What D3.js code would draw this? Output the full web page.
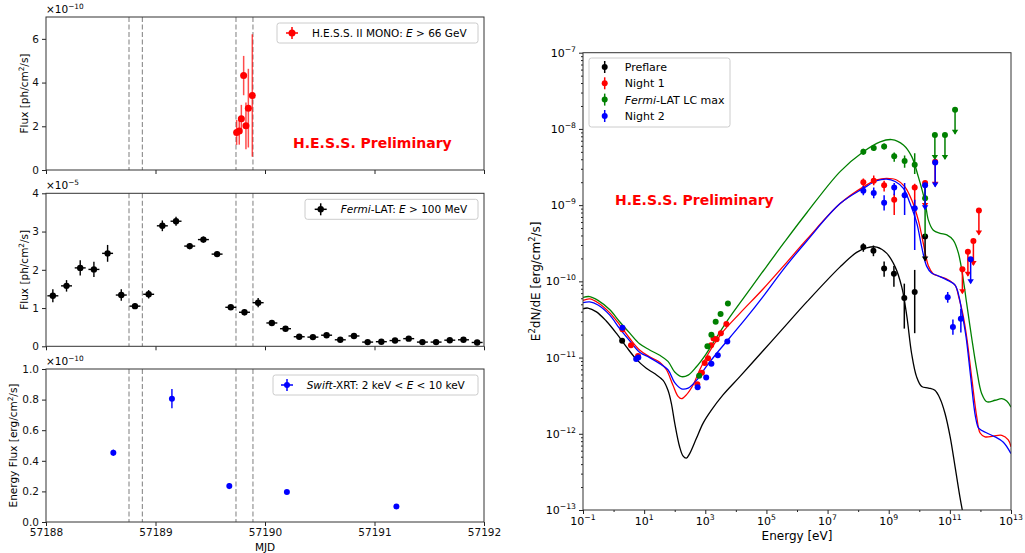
<!DOCTYPE html>
<html>
<head>
<meta charset="utf-8">
<script src="https://cdn.jsdelivr.net/npm/d3@7/dist/d3.min.js"></script>
<style>
  body { margin: 0; background: #fff; }
  text { font-family: "DejaVu Sans", sans-serif; }
</style>
</head>
<body>
<script>
// ---------- light curves (left column) ----------
var mjdTicks = [57188, 57189, 57190, 57191, 57192];
var nightEdges = [57188.758, 57188.880, 57189.735, 57189.890];

// H.E.S.S. II MONO, E > 66 GeV   (x 1e-10 ph/cm2/s)
var hessMJD  = [57189.741, 57189.765, 57189.784, 57189.805, 57189.826, 57189.848, 57189.884];
var hessFlux = [1.72, 1.78, 2.34, 4.32, 2.02, 2.83, 3.41];
var hessErr  = [0.57, 0.62, 0.64, 0.90, 1.07, 1.80, 2.80];

// Fermi-LAT, E > 100 MeV   (x 1e-5 ph/cm2/s), 3 h bins
var fermiMJD = [57188.0625, 57188.1875, 57188.3125, 57188.4375, 57188.5625, 57188.6875, 57188.8125, 57188.9375,
                57189.0625, 57189.1875, 57189.3125, 57189.4375, 57189.5625, 57189.6875, 57189.8125, 57189.9375,
                57190.0625, 57190.1875, 57190.3125, 57190.4375, 57190.5625, 57190.6875, 57190.8125, 57190.9375,
                57191.0625, 57191.1875, 57191.3125, 57191.4375, 57191.5625, 57191.6875, 57191.8125, 57191.9375];
var fermiFlux = [1.32, 1.58, 2.05, 2.01, 2.43, 1.34, 1.05, 1.36, 3.15, 3.27, 2.62, 2.79, 2.41, 1.02, 0.89, 1.14,
                 0.61, 0.46, 0.25, 0.24, 0.29, 0.17, 0.27, 0.11, 0.12, 0.15, 0.20, 0.11, 0.11, 0.16, 0.17, 0.10];
var fermiErr  = [0.17, 0.15, 0.20, 0.20, 0.22, 0.15, 0.07, 0.11, 0.14, 0.12, 0.08, 0.08, 0.07, 0.06, 0.08, 0.12,
                 0.05, 0.05, 0.04, 0.04, 0.05, 0.04, 0.04, 0.04, 0.04, 0.04, 0.05, 0.03, 0.03, 0.04, 0.04, 0.03];
var fermiHalfBin = 0.05;

// Swift-XRT, 2-10 keV   (x 1e-10 erg/cm2/s)
var swiftMJD  = [57188.615, 57189.150, 57189.674, 57190.200, 57191.200];
var swiftFlux = [0.453, 0.806, 0.235, 0.196, 0.102];
var swiftErr  = [0.020, 0.063, 0.020, 0.012, 0.008];

// ---------- SED (right) : log10(E/eV), log10(E2dN/dE) ----------
var preflareModel = [[-1,-10.36],[-0.84,-10.35],[-0.56,-10.40],[-0.24,-10.52],[0.09,-10.68],[0.42,-10.86],[0.74,-11.02],
  [1.07,-11.14],[1.34,-11.21],[1.62,-11.30],[1.78,-11.43],[1.89,-11.60],[2.00,-11.86],[2.16,-12.17],[2.27,-12.29],
  [2.38,-12.32],[2.49,-12.26],[2.71,-12.06],[2.93,-11.86],[3.20,-11.69],[3.58,-11.49],[4.13,-11.25],[4.89,-10.91],
  [5.45,-10.66],[6.32,-10.27],[7.41,-9.81],[7.95,-9.62],[8.28,-9.56],[8.61,-9.55],[8.93,-9.63],[9.21,-9.81],
  [9.43,-10.08],[9.59,-10.45],[9.75,-10.95],[9.91,-11.25],[10.08,-11.38],[10.30,-11.40],[10.51,-11.43],
  [10.68,-11.54],[10.84,-11.73],[11.01,-12.04],[11.17,-12.43],[11.33,-12.83],[11.44,-13.07]];
var night1Model = [[-1,-10.25],[-0.78,-10.23],[-0.51,-10.28],[-0.13,-10.41],[0.20,-10.57],[0.53,-10.75],[0.85,-10.90],
  [1.18,-10.99],[1.51,-11.06],[1.73,-11.16],[1.94,-11.36],[2.11,-11.51],[2.22,-11.54],[2.38,-11.49],[2.60,-11.36],
  [2.82,-11.16],[3.14,-10.92],[3.58,-10.66],[4.13,-10.42],[4.89,-10.10],[5.60,-9.78],[6.32,-9.45],[7.41,-8.98],
  [8.17,-8.76],[8.61,-8.67],[8.93,-8.65],[9.26,-8.67],[9.53,-8.76],[9.75,-8.93],[9.97,-9.20],[10.13,-9.50],
  [10.30,-9.80],[10.45,-9.90],[10.62,-9.93],[10.90,-9.97],[11.17,-10.05],[11.30,-10.22],[11.42,-10.42],
  [11.55,-10.73],[11.71,-11.25],[11.88,-11.78],[11.99,-11.99],[12.15,-12.04],[12.42,-12.03],[12.70,-12.02],
  [12.91,-12.08],[13.0,-12.17]];
var fermiMaxModel = [[-1,-10.21],[-0.78,-10.20],[-0.51,-10.25],[-0.13,-10.37],[0.20,-10.53],[0.53,-10.68],[0.85,-10.82],
  [1.18,-10.90],[1.51,-10.97],[1.78,-11.05],[2.00,-11.19],[2.22,-11.25],[2.44,-11.23],[2.71,-11.12],[3.03,-10.95],
  [3.36,-10.74],[3.80,-10.47],[4.34,-10.17],[4.83,-9.90],[5.60,-9.48],[6.32,-9.10],[7.41,-8.56],[8.17,-8.30],
  [8.72,-8.17],[9.10,-8.14],[9.48,-8.21],[9.75,-8.36],[9.97,-8.63],[10.19,-8.96],[10.30,-9.20],[10.46,-9.33],
  [10.68,-9.37],[10.90,-9.39],[11.11,-9.46],[11.28,-9.63],[11.44,-9.98],[11.55,-10.29],[11.71,-10.73],
  [11.88,-11.16],[12.04,-11.47],[12.21,-11.58],[12.48,-11.56],[12.70,-11.54],[12.86,-11.57],[13.0,-11.65]];
var night2Model = [[-1,-10.28],[-0.78,-10.27],[-0.51,-10.31],[-0.13,-10.44],[0.20,-10.62],[0.53,-10.78],[0.85,-10.93],
  [1.18,-11.00],[1.51,-11.08],[1.78,-11.16],[2.00,-11.33],[2.22,-11.41],[2.44,-11.40],[2.71,-11.30],[3.03,-11.12],
  [3.36,-10.95],[3.80,-10.74],[4.34,-10.48],[4.89,-10.20],[5.60,-9.82],[6.32,-9.47],[7.41,-8.98],[8.17,-8.78],
  [8.61,-8.68],[8.93,-8.66],[9.21,-8.69],[9.48,-8.78],[9.70,-8.98],[9.92,-9.24],[10.08,-9.55],[10.24,-9.80],
  [10.40,-9.89],[10.57,-9.92],[10.90,-9.98],[11.17,-10.05],[11.30,-10.20],[11.40,-10.42],[11.53,-10.73],
  [11.68,-11.25],[11.84,-11.78],[11.95,-11.93],[12.21,-11.99],[12.48,-12.04],[12.75,-12.11],[13.0,-12.26]];

// SED points: log E, log flux, lower / upper error (dex), upper-limit flag
var preLogE  = [0.28, 8.17, 8.50, 8.85, 9.17, 9.51, 9.85, 10.19];
var preLogF  = [-10.78, -9.55, -9.60, -9.83, -9.90, -10.22, -10.14, -9.41];
var preErrLo = [0.02, 0.06, 0.07, 0.11, 0.17, 0.40, 0.54, 0];
var preErrHi = [0.02, 0.05, 0.07, 0.09, 0.10, 0.19, 0.29, 0];
var preUL    = [0, 0, 0, 0, 0, 0, 0, 1];

var n1LogE  = [0.29, 0.57, 0.80, 2.74, 2.89, 2.98, 3.09, 3.19, 3.27, 3.37, 3.51, 3.69,
               8.17, 8.51, 8.85, 9.18, 9.85, 10.19, 10.52, 11.41, 11.59, 11.77, 11.95];
var n1LogF  = [-10.63, -10.84, -10.98, -11.35, -11.20, -11.07, -11.01, -10.84, -10.75, -10.76, -10.68, -10.56,
               -8.70, -8.68, -8.74, -8.93, -8.77, -8.71, -8.43, -9.84, -9.61, -9.47, -9.07];
var n1ErrLo = [0.02, 0.02, 0.02, 0.02, 0.02, 0.02, 0.02, 0.02, 0.02, 0.02, 0.02, 0.02,
               0.06, 0.06, 0.08, 0.20, 0.25, 0, 0, 0, 0, 0, 0];
var n1ErrHi = [0.02, 0.02, 0.02, 0.02, 0.02, 0.02, 0.02, 0.02, 0.02, 0.02, 0.02, 0.02,
               0.05, 0.07, 0.06, 0.08, 0.05, 0, 0, 0, 0, 0, 0];
var n1UL    = [0, 0, 0, 0, 0, 0, 0, 0, 0, 0, 0, 0, 0, 0, 0, 0, 0, 1, 1, 1, 1, 1, 1];

var fmLogE  = [2.80, 3.07, 3.20, 3.34, 3.50, 3.74, 8.17, 8.51, 8.85, 9.18, 9.52, 9.85, 10.19, 10.51, 10.84, 11.17];
var fmLogF  = [-11.24, -10.85, -10.70, -10.53, -10.43, -10.29, -8.30, -8.25, -8.23, -8.36, -8.42, -8.47, -8.91, -8.08, -8.08, -7.75];
var fmErrLo = [0.02, 0.02, 0.02, 0.02, 0.02, 0.02, 0.04, 0.04, 0.04, 0.07, 0.09, 0.12, 0.50, 0, 0, 0];
var fmErrHi = [0.02, 0.02, 0.02, 0.02, 0.02, 0.02, 0.04, 0.04, 0.04, 0.05, 0.07, 0.15, 0.20, 0, 0, 0];
var fmUL    = [0, 0, 0, 0, 0, 0, 0, 0, 0, 0, 0, 0, 0, 1, 1, 1];

var n2LogE  = [0.29, 0.74, 0.81, 2.75, 3.03, 3.20, 3.41, 3.72, 8.17, 8.51, 8.85, 9.18, 9.52, 9.85,
               10.19, 10.52, 10.93, 11.10, 11.36, 11.68];
var n2LogF  = [-10.61, -11.02, -11.00, -11.39, -11.26, -11.08, -10.97, -10.79, -8.81, -8.84, -8.97, -8.77, -8.87, -9.04,
               -8.74, -8.44, -10.21, -10.60, -10.49, -9.71];
var n2ErrLo = [0.02, 0.02, 0.02, 0.02, 0.02, 0.02, 0.02, 0.02, 0.06, 0.07, 0.10, 0.10, 0.26, 0.55, 0, 0, 0.07, 0.10, 0.18, 0];
var n2ErrHi = [0.02, 0.02, 0.02, 0.02, 0.02, 0.02, 0.02, 0.02, 0.06, 0.07, 0.10, 0.06, 0.16, 0.11, 0, 0, 0.07, 0.10, 0.13, 0];
var n2UL    = [0, 0, 0, 0, 0, 0, 0, 0, 0, 0, 0, 0, 0, 0, 1, 1, 0, 0, 0, 1];

var sedSets = [
  {name: [{t: "Preflare"}], color: "#000000", model: preflareModel, e: preLogE, f: preLogF, lo: preErrLo, hi: preErrHi, ul: preUL},
  {name: [{t: "Night 1"}], color: "#ff0000", model: night1Model, e: n1LogE, f: n1LogF, lo: n1ErrLo, hi: n1ErrHi, ul: n1UL},
  {name: [{t: "Fermi", it: true}, {t: "-LAT LC max"}], color: "#008000", model: fermiMaxModel, e: fmLogE, f: fmLogF, lo: fmErrLo, hi: fmErrHi, ul: fmUL},
  {name: [{t: "Night 2"}], color: "#0000ff", model: night2Model, e: n2LogE, f: n2LogF, lo: n2ErrLo, hi: n2ErrHi, ul: n2UL}
];

var svg = d3.select("body").append("svg")
    .attr("width", 1025)
    .attr("height", 553);

// text with italic / superscript pieces
function rich(t, parts, fs) {
  var shift = 0;
  parts.forEach(function(p) {
    var s = t.append("tspan").text(p.t);
    var want = p.sup ? -Math.round(fs * 0.42) : 0;
    if (want !== shift) { s.attr("dy", want - shift); shift = want; }
    if (p.sup) s.style("font-size", (fs * 0.7) + "px");
    if (p.it) s.style("font-style", "italic");
  });
  return t;
}

function styleAxis(g, fs) {
  g.select(".domain").remove();
  g.selectAll("line").attr("stroke", "#222");
  g.selectAll("text").attr("font-family", "DejaVu Sans").attr("font-size", fs).attr("fill", "#111");
}

// ================= left column =================
var x = d3.scaleLinear().domain([57188, 57192]).range([46, 484]);
var panelH = 153;

function lcPanel(top, yMax, yTicks, fmt, showX) {
  var y = d3.scaleLinear().domain([0, yMax]).range([top + panelH, top]);
  var g = svg.append("g");
  g.append("g")
      .attr("transform", "translate(0," + (top + panelH) + ")")
      .call(d3.axisBottom(x).tickValues(mjdTicks).tickSize(4).tickPadding(3)
        .tickFormat(showX ? d3.format("d") : ""))
      .call(styleAxis, 10.5);
  g.append("g")
      .attr("transform", "translate(46,0)")
      .call(d3.axisLeft(y).tickValues(yTicks).tickSize(4).tickPadding(3).tickFormat(fmt))
      .call(styleAxis, 10.5);
  g.selectAll(".night")
    .data(nightEdges)
    .enter().append("line")
      .attr("x1", function(d) { return x(d); })
      .attr("x2", function(d) { return x(d); })
      .attr("y1", top).attr("y2", top + panelH)
      .attr("stroke", "#8a8a8a").attr("stroke-width", 1.1)
      .attr("stroke-dasharray", "5,2.5");
  return {g: g, y: y, top: top};
}

function frame(top) {
  svg.append("rect")
      .attr("x", 46).attr("y", top).attr("width", 438).attr("height", panelH)
      .attr("fill", "none").attr("stroke", "#333").attr("stroke-width", 1);
}

function offsetText(top, exp) {
  rich(svg.append("text").attr("x", 46).attr("y", top - 4).attr("font-size", 10.5),
       [{t: "\u00d710"}, {t: exp, sup: true}], 10.5);
}

function yLabel(xpos, top, parts) {
  rich(svg.append("text")
      .attr("transform", "translate(" + xpos + "," + (top + panelH / 2) + ") rotate(-90)")
      .attr("text-anchor", "middle").attr("font-size", 10.5), parts, 10.5);
}

function lcLegend(top, x0, markX, textX, color, r, parts) {
  var cy = top + 16;
  svg.append("rect")
      .attr("x", x0).attr("y", top + 6).attr("width", 478 - x0).attr("height", 20)
      .attr("rx", 2.5).attr("fill", "#fff").attr("fill-opacity", 0.8)
      .attr("stroke", "#cccccc").attr("stroke-width", 1);
  svg.append("line").attr("x1", markX - 6).attr("x2", markX + 6).attr("y1", cy).attr("y2", cy)
      .attr("stroke", color).attr("stroke-width", 1.5);
  svg.append("line").attr("x1", markX).attr("x2", markX).attr("y1", cy - 6).attr("y2", cy + 6)
      .attr("stroke", color).attr("stroke-width", 1.5);
  svg.append("circle").attr("cx", markX).attr("cy", cy).attr("r", r).attr("fill", color);
  rich(svg.append("text").attr("x", textX).attr("y", cy + 3.8).attr("font-size", 10.5), parts, 10.5);
}

// --- H.E.S.S. ---
var p1 = lcPanel(17, 7, [0, 2, 4, 6], d3.format("d"), false);
hessMJD.forEach(function(t, i) {
  p1.g.append("line")
      .attr("x1", x(t)).attr("x2", x(t))
      .attr("y1", p1.y(hessFlux[i] - hessErr[i])).attr("y2", p1.y(hessFlux[i] + hessErr[i]))
      .attr("stroke", "#ff0000").attr("stroke-opacity", 0.7).attr("stroke-width", 1.5);
});
p1.g.selectAll(".hess").data(hessMJD).enter().append("circle")
    .attr("cx", function(d) { return x(d); })
    .attr("cy", function(d, i) { return p1.y(hessFlux[i]); })
    .attr("r", 3.5).attr("fill", "#ff0000");
svg.append("text").attr("x", 293).attr("y", 148)
    .attr("font-size", 14).attr("font-weight", "bold").attr("fill", "#ff0000")
    .text("H.E.S.S. Preliminary");
lcLegend(17, 277, 292, 312, "#ff0000", 3.5,
  [{t: "H.E.S.S. II MONO: "}, {t: "E", it: true}, {t: " > 66 GeV"}]);
frame(17);
offsetText(17, "\u221210");
yLabel(28, 17, [{t: "Flux [ph/cm"}, {t: "2", sup: true}, {t: "/s]"}]);

// --- Fermi-LAT ---
var p2 = lcPanel(193.3, 4, [0, 1, 2, 3, 4], d3.format("d"), false);
fermiMJD.forEach(function(t, i) {
  p2.g.append("line")
      .attr("x1", x(t)).attr("x2", x(t))
      .attr("y1", p2.y(fermiFlux[i] - fermiErr[i])).attr("y2", p2.y(fermiFlux[i] + fermiErr[i]))
      .attr("stroke", "#000").attr("stroke-width", 1.4);
  p2.g.append("line")
      .attr("x1", x(t - fermiHalfBin)).attr("x2", x(t + fermiHalfBin))
      .attr("y1", p2.y(fermiFlux[i])).attr("y2", p2.y(fermiFlux[i]))
      .attr("stroke", "#000").attr("stroke-width", 1.4);
});
p2.g.selectAll(".fermi").data(fermiMJD).enter().append("circle")
    .attr("cx", function(d) { return x(d); })
    .attr("cy", function(d, i) { return p2.y(fermiFlux[i]); })
    .attr("r", 3.2).attr("fill", "#000");
lcLegend(193.3, 305, 320.7, 340.7, "#000", 3.2,
  [{t: "Fermi", it: true}, {t: "-LAT: "}, {t: "E", it: true}, {t: " > 100 MeV"}]);
frame(193.3);
offsetText(193.3, "\u22125");
yLabel(28, 193.3, [{t: "Flux [ph/cm"}, {t: "2", sup: true}, {t: "/s]"}]);

// --- Swift-XRT ---
var p3 = lcPanel(369, 1, [0, 0.2, 0.4, 0.6, 0.8, 1.0], d3.format(".1f"), true);
swiftMJD.forEach(function(t, i) {
  p3.g.append("line")
      .attr("x1", x(t)).attr("x2", x(t))
      .attr("y1", p3.y(swiftFlux[i] - swiftErr[i])).attr("y2", p3.y(swiftFlux[i] + swiftErr[i]))
      .attr("stroke", "#0000ff").attr("stroke-width", 1.4);
});
p3.g.selectAll(".swift").data(swiftMJD).enter().append("circle")
    .attr("cx", function(d) { return x(d); })
    .attr("cy", function(d, i) { return p3.y(swiftFlux[i]); })
    .attr("r", 3).attr("fill", "#0000ff");
lcLegend(369, 273, 287, 306.7, "#0000ff", 3,
  [{t: "Swift", it: true}, {t: "-XRT: 2 keV < "}, {t: "E", it: true}, {t: " < 10 keV"}]);
frame(369);
offsetText(369, "\u221210");
yLabel(17, 369, [{t: "Energy Flux [erg/cm"}, {t: "2", sup: true}, {t: "/s]"}]);

svg.append("text").attr("x", x(57190)).attr("y", 551)
    .attr("text-anchor", "middle").attr("font-size", 10.5).text("MJD");

// ================= right: SED =================
var sx = d3.scaleLog().domain([1e-1, 1e13]).range([583, 1011]);
var sy = d3.scaleLog().domain([1e-13, 1e-7]).range([510, 52.7]);

var xMajor = [-1, 1, 3, 5, 7, 9, 11, 13];
var xMinor = [0, 2, 4, 6, 8, 10, 12];
var yMajor = [-13, -12, -11, -10, -9, -8, -7];
var yMinor = [];
yMajor.slice(0, -1).forEach(function(e) {
  [2, 3, 4, 5, 6, 7, 8, 9].forEach(function(m) { yMinor.push(m * Math.pow(10, e)); });
});

var sed = svg.append("g");
sed.append("g").attr("transform", "translate(0,510)")
    .call(d3.axisBottom(sx).tickValues(xMajor.map(function(e) { return Math.pow(10, e); })).tickSize(4).tickFormat(""))
    .call(styleAxis, 11);
sed.append("g").attr("transform", "translate(0,510)")
    .call(d3.axisBottom(sx).tickValues(xMinor.map(function(e) { return Math.pow(10, e); })).tickSize(2).tickFormat(""))
    .call(styleAxis, 11);
sed.append("g").attr("transform", "translate(583,0)")
    .call(d3.axisLeft(sy).tickValues(yMajor.map(function(e) { return Math.pow(10, e); })).tickSize(4).tickFormat(""))
    .call(styleAxis, 11);
sed.append("g").attr("transform", "translate(583,0)")
    .call(d3.axisLeft(sy).tickValues(yMinor).tickSize(2).tickFormat(""))
    .call(styleAxis, 11);

xMajor.forEach(function(e) {
  rich(sed.append("text").attr("x", sx(Math.pow(10, e))).attr("y", 525)
      .attr("text-anchor", "middle").attr("font-size", 11),
      [{t: "10"}, {t: e < 0 ? "\u2212" + (-e) : "" + e, sup: true}], 11);
});
yMajor.forEach(function(e) {
  rich(sed.append("text").attr("x", 576).attr("y", sy(Math.pow(10, e)) + 4)
      .attr("text-anchor", "end").attr("font-size", 11),
      [{t: "10"}, {t: "\u2212" + (-e), sup: true}], 11);
});

svg.append("defs").append("clipPath").attr("id", "sedClip")
  .append("rect").attr("x", 583).attr("y", 52.7).attr("width", 428).attr("height", 457.3);

var plot = sed.append("g").attr("clip-path", "url(#sedClip)");

var line = d3.line()
    .x(function(d) { return sx(Math.pow(10, d[0])); })
    .y(function(d) { return sy(Math.pow(10, d[1])); })
    .curve(d3.curveCatmullRom.alpha(0.5));

sedSets.forEach(function(s) {
  plot.append("path").datum(s.model)
      .attr("d", line).attr("fill", "none")
      .attr("stroke", s.color).attr("stroke-width", 1.3);
});

var ulLen = 24;
sedSets.forEach(function(s) {
  s.e.forEach(function(le, i) {
    var px = sx(Math.pow(10, le)), py = sy(Math.pow(10, s.f[i]));
    if (s.ul[i]) {
      plot.append("line").attr("x1", px).attr("x2", px).attr("y1", py).attr("y2", py + ulLen)
          .attr("stroke", s.color).attr("stroke-width", 1.5);
      plot.append("path")
          .attr("d", "M" + (px - 3.2) + "," + (py + ulLen - 4) + "L" + (px + 3.2) + "," + (py + ulLen - 4) +
                     "L" + px + "," + (py + ulLen + 1) + "Z")
          .attr("fill", s.color);
    } else {
      plot.append("line").attr("x1", px).attr("x2", px)
          .attr("y1", sy(Math.pow(10, s.f[i] - s.lo[i])))
          .attr("y2", sy(Math.pow(10, s.f[i] + s.hi[i])))
          .attr("stroke", s.color).attr("stroke-width", 1.5);
    }
    plot.append("circle").attr("cx", px).attr("cy", py).attr("r", 3).attr("fill", s.color);
  });
});

sed.append("text").attr("x", 615).attr("y", 205)
    .attr("font-size", 14).attr("font-weight", "bold").attr("fill", "#ff0000")
    .text("H.E.S.S. Preliminary");

// legend
var leg = sed.append("g");
leg.append("rect").attr("x", 589).attr("y", 58).attr("width", 141).attr("height", 69)
    .attr("rx", 2.5).attr("fill", "#fff").attr("fill-opacity", 0.8)
    .attr("stroke", "#cccccc").attr("stroke-width", 1);
var legRows = [67, 83.3, 99.6, 116];
sedSets.forEach(function(s, i) {
  var cy = legRows[i];
  leg.append("line").attr("x1", 604.7).attr("x2", 604.7).attr("y1", cy - 6).attr("y2", cy + 6)
      .attr("stroke", s.color).attr("stroke-width", 1.5);
  leg.append("circle").attr("cx", 604.7).attr("cy", cy).attr("r", 3).attr("fill", s.color);
  rich(leg.append("text").attr("x", 624.7).attr("y", cy + 4).attr("font-size", 11), s.name, 11);
});

sed.append("rect").attr("x", 583).attr("y", 52.7).attr("width", 428).attr("height", 457.3)
    .attr("fill", "none").attr("stroke", "#333").attr("stroke-width", 1);

svg.append("text").attr("x", sx(Math.pow(10, 6))).attr("y", 540)
    .attr("text-anchor", "middle").attr("font-size", 12).text("Energy [eV]");
rich(svg.append("text")
    .attr("transform", "translate(540," + sy(Math.pow(10, -10)) + ") rotate(-90)")
    .attr("text-anchor", "middle").attr("font-size", 12),
    [{t: "E"}, {t: "2", sup: true}, {t: "dN/dE [erg/cm"}, {t: "2", sup: true}, {t: "/s]"}], 12);
</script>
</body>
</html>
